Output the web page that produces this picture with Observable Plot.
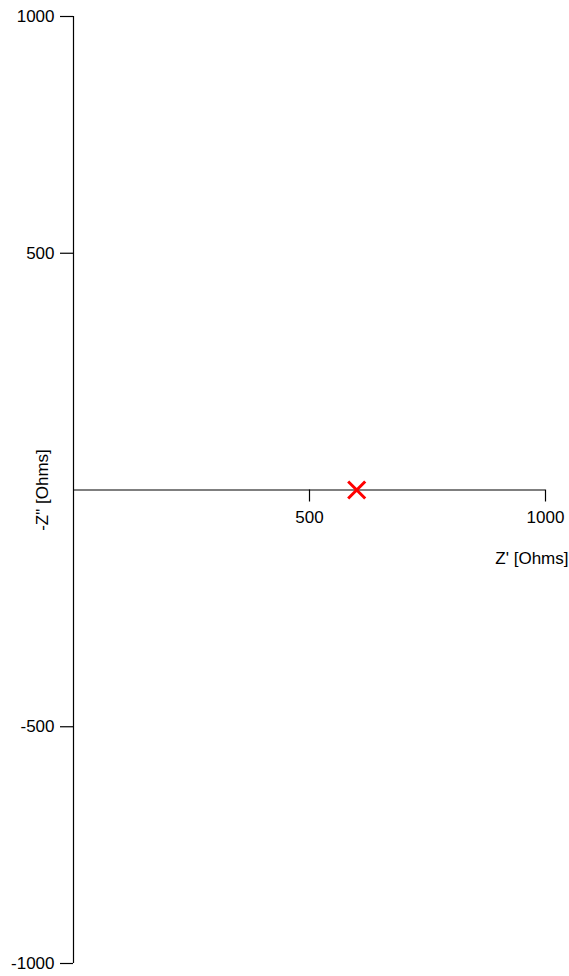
<!DOCTYPE html>
<html>
<head>
<meta charset="utf-8">
<script src="https://cdn.jsdelivr.net/npm/d3@7"></script>
<script src="https://cdn.jsdelivr.net/npm/@observablehq/plot@0.6"></script>
<style>
  html, body { margin: 0; padding: 0; background: #fff; }
  #chart svg { display: block; }
</style>
</head>
<body>
<div id="chart"></div>
<script>
// Nyquist plot: impedance measurements (Z' real, -Z'' imaginary)
const zReal = [600];
const zImag = [0];

// Axis ticks and labels
const xTicks = [500, 1000];
const yTicks = [1000, 500, -500, -1000];
const xDomain = [0, 1000];
const yDomain = [-1000, 1000];
const xTitle = "Z' [Ohms]";
const yTitle = "-Z\" [Ohms]";

const points = zReal.map((re, i) => ({re, im: zImag[i]}));
const font = "Liberation Sans, Arial, sans-serif";
const fs = 17;

const chart = Plot.plot({
  width: 569,
  height: 976,
  marginLeft: 73,
  marginRight: 24,
  marginTop: 16,
  marginBottom: 13,
  style: {fontFamily: font, fontSize: fs + "px", color: "black", background: "white", overflow: "visible"},
  x: {domain: xDomain, axis: null},
  y: {domain: yDomain, axis: null},
  marks: [
    // axes crossing at the origin
    Plot.ruleX([0], {y1: yDomain[0], y2: yDomain[1], stroke: "black", strokeWidth: 1.2}),
    Plot.ruleY([0], {x1: xDomain[0], x2: xDomain[1], stroke: "black", strokeWidth: 1.2}),
    // x ticks hanging below the horizontal axis
    Plot.ruleX(xTicks, {y1: 0, y2: 0, insetBottom: -12, stroke: "black", strokeWidth: 1.2}),
    Plot.text(xTicks, {x: d => d, y: 0, dy: 28, text: d => String(d), fill: "black", fontSize: fs}),
    // y ticks pointing left of the vertical axis
    Plot.ruleY(yTicks, {x1: 0, x2: 0, insetLeft: -13, stroke: "black", strokeWidth: 1.2}),
    Plot.text(yTicks, {x: 0, y: d => d, dx: -19, text: d => String(d), textAnchor: "end", fill: "black", fontSize: fs}),
    // axis titles
    Plot.text([xTitle], {x: xDomain[1], y: 0, dx: 23, dy: 69, text: d => d, textAnchor: "end", fill: "black", fontSize: fs}),
    Plot.text([yTitle], {x: 0, y: 0, dx: -31, text: d => d, rotate: -90, fill: "black", fontSize: fs}),
    // measured point
    Plot.dot(points, {x: "re", y: "im", symbol: "times", r: 7.8, stroke: "red", strokeWidth: 3})
  ]
});

document.getElementById("chart").append(chart);
</script>
</body>
</html>
